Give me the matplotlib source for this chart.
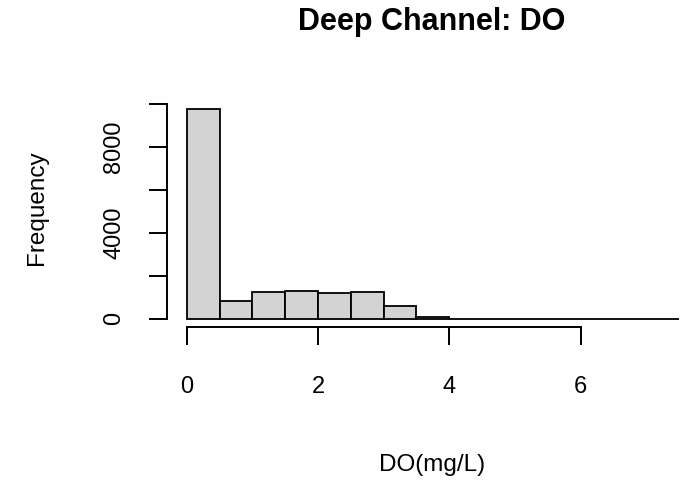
import numpy as np
import matplotlib
matplotlib.use("Agg")
import matplotlib.pyplot as plt

plt.rcParams['font.family'] = ['Liberation Sans', 'DejaVu Sans']

# histogram of DO (mg/L), bins of width 0.5
bin_edges = np.arange(0, 7.51, 0.5)
counts = [9762, 825, 1259, 1305, 1212, 1259, 578, 80, 3, 2, 1, 1, 1, 0, 1]
x_ticks = [0, 2, 4, 6]
y_ticks = [0, 2000, 4000, 6000, 8000, 10000]
y_tick_labels = ['0', '', '4000', '', '8000', '']

fig = plt.figure(figsize=(6.91, 4.84), dpi=100)
ax = fig.add_axes([0.2417, 0.3242, 0.7696, 0.4671])

ymax = max(counts)
ax.bar(bin_edges[:-1], counts, width=0.5, align='edge',
       color='#D3D3D3', edgecolor='black', linewidth=1.3)

ax.set_xlim(-0.3, 7.8)
ax.set_ylim(-0.04 * ymax, 1.04 * ymax)

for s in ['top', 'right']:
    ax.spines[s].set_visible(False)
ax.spines['left'].set_bounds(0, 10000)
ax.spines['bottom'].set_bounds(0, 6)
ax.spines['left'].set_linewidth(1.4)
ax.spines['bottom'].set_linewidth(1.4)

ax.set_xticks(x_ticks)
ax.set_xticklabels([str(t) for t in x_ticks])
ax.set_yticks(y_ticks)
ax.set_yticklabels(y_tick_labels, rotation=90, va='center')
ax.tick_params(axis='both', direction='out', length=13, width=1.4, labelsize=17)
ax.tick_params(axis='x', pad=22)
ax.tick_params(axis='y', pad=17)

fig.text(432 / 691, 1 - 22 / 484, 'Deep Channel: DO', ha='center', va='center',
         fontsize=22, fontweight='bold')
fig.text(432 / 691, 1 - 465 / 484, 'DO(mg/L)', ha='center', va='center', fontsize=17.5)
fig.text(37 / 691, 1 - 208 / 484, 'Frequency', ha='center', va='center',
         rotation=90, fontsize=17.5)

fig.savefig('out.png', dpi=100)
